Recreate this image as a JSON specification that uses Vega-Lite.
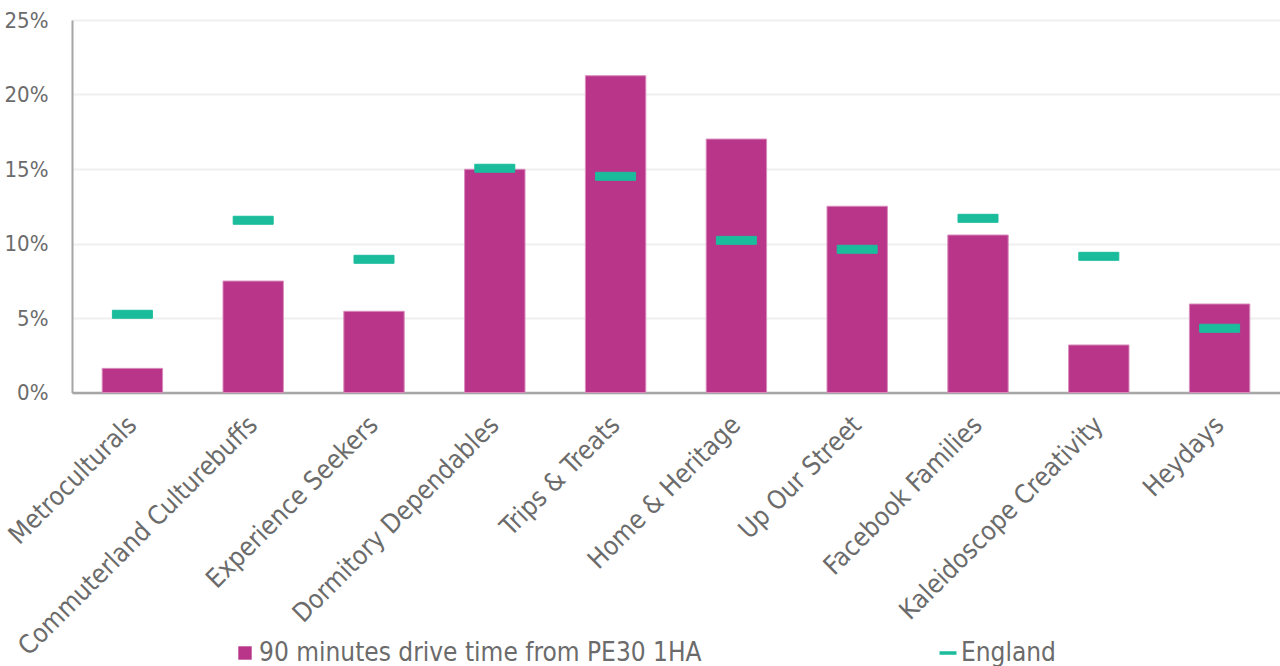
{
  "$schema": "https://vega.github.io/schema/vega-lite/v6.json",
  "autosize": {"type": "none"},
  "width": 1208,
  "height": 372.5,
  "padding": {"left": 72, "top": 20, "right": 0, "bottom": 273.5},
  "background": "white",
  "config": {
    "view": {"stroke": null},
    "font": "DejaVu Sans Condensed",
    "legend": {
      "title": null,
      "orient": "none",
      "direction": "horizontal",
      "padding": 0,
      "labelFontSize": 26,
      "labelColor": "#6b6b6b",
      "labelLimit": 600
    }
  },
  "data": {
    "values": [
      {"segment": "Metroculturals", "series": "90 minutes drive time from PE30 1HA", "value": 1.62},
      {"segment": "Commuterland Culturebuffs", "series": "90 minutes drive time from PE30 1HA", "value": 7.48},
      {"segment": "Experience Seekers", "series": "90 minutes drive time from PE30 1HA", "value": 5.45},
      {"segment": "Dormitory Dependables", "series": "90 minutes drive time from PE30 1HA", "value": 14.98},
      {"segment": "Trips & Treats", "series": "90 minutes drive time from PE30 1HA", "value": 21.26},
      {"segment": "Home & Heritage", "series": "90 minutes drive time from PE30 1HA", "value": 17.01},
      {"segment": "Up Our Street", "series": "90 minutes drive time from PE30 1HA", "value": 12.5},
      {"segment": "Facebook Families", "series": "90 minutes drive time from PE30 1HA", "value": 10.57},
      {"segment": "Kaleidoscope Creativity", "series": "90 minutes drive time from PE30 1HA", "value": 3.19},
      {"segment": "Heydays", "series": "90 minutes drive time from PE30 1HA", "value": 5.94},
      {"segment": "Metroculturals", "series": "England", "value": 5.25},
      {"segment": "Commuterland Culturebuffs", "series": "England", "value": 11.56},
      {"segment": "Experience Seekers", "series": "England", "value": 8.94},
      {"segment": "Dormitory Dependables", "series": "England", "value": 15.05},
      {"segment": "Trips & Treats", "series": "England", "value": 14.51},
      {"segment": "Home & Heritage", "series": "England", "value": 10.21},
      {"segment": "Up Our Street", "series": "England", "value": 9.61},
      {"segment": "Facebook Families", "series": "England", "value": 11.69},
      {"segment": "Kaleidoscope Creativity", "series": "England", "value": 9.14},
      {"segment": "Heydays", "series": "England", "value": 4.31}
    ]
  },
  "encoding": {
    "x": {
      "field": "segment",
      "type": "nominal",
      "sort": null,
      "scale": {"paddingInner": 0.5, "paddingOuter": 0.25},
      "axis": {
        "title": null,
        "labelAngle": -45,
        "labelAlign": "right",
        "labelBaseline": "middle",
        "labelFontSize": 26,
        "labelColor": "#6b6b6b",
        "labelPadding": 28,
        "labelLimit": 500,
        "ticks": false,
        "domainColor": "#a6a6a6",
        "domainWidth": 2.5
      }
    },
    "y": {
      "field": "value",
      "type": "quantitative",
      "scale": {"domain": [0, 25], "nice": false},
      "axis": {
        "title": null,
        "values": [0, 5, 10, 15, 20, 25],
        "labelExpr": "datum.value + '%'",
        "labelFontSize": 22,
        "labelColor": "#6b6b6b",
        "labelPadding": 24,
        "ticks": false,
        "domainColor": "#a6a6a6",
        "domainWidth": 2,
        "gridColor": "#efefef",
        "gridWidth": 2
      }
    }
  },
  "layer": [
    {
      "transform": [{"filter": "datum.series !== 'England'"}],
      "mark": {"type": "bar", "stroke": "#d98cbd", "strokeWidth": 1},
      "encoding": {
        "fill": {
          "field": "series",
          "type": "nominal",
          "scale": {"domain": ["90 minutes drive time from PE30 1HA"], "range": ["#B9358A"]},
          "legend": {
            "legendX": 160,
            "legendY": 620,
            "symbolType": "square",
            "symbolSize": 180,
            "symbolStrokeWidth": 0,
            "labelOffset": 1
          }
        }
      }
    },
    {
      "transform": [{"filter": "datum.series === 'England'"}],
      "mark": {"type": "tick", "size": 40, "thickness": 8, "opacity": 1, "color": "#1ABC9C", "fill": "#1ABC9C"},
      "encoding": {
        "stroke": {
          "field": "series",
          "type": "nominal",
          "scale": {"domain": ["England"], "range": ["#1ABC9C"]},
          "legend": {
            "legendX": 863,
            "legendY": 620,
            "symbolType": "stroke",
            "symbolSize": 289,
            "symbolStrokeWidth": 3.5,
            "labelOffset": 0
          }
        }
      }
    }
  ]
}
